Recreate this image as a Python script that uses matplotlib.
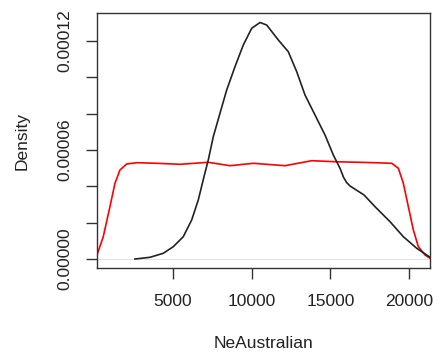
import matplotlib
matplotlib.use("Agg")
import matplotlib.pyplot as plt

# Density estimate of NeAustralian (posterior) and its prior
post_x = [2609, 3561, 4404, 5038, 5672, 6205, 6623, 6985, 7257, 7574, 7999,
          8424, 8950, 9477, 10009, 10536, 10961, 11696, 12330, 12863, 13389,
          14023, 14657, 15184, 15608, 15830, 16033, 16243, 16687, 17131,
          17828, 18779, 19622, 20472, 21316]
post_y = [0.0, 9.4e-7, 3.14e-6, 6.77e-6, 1.228e-5, 2.147e-5, 3.248e-5,
          4.531e-5, 5.450e-5, 6.733e-5, 8.021e-5, 9.303e-5, 1.0586e-4,
          1.1781e-4, 1.270e-4, 1.302e-4, 1.288e-4, 1.2056e-4, 1.1412e-4,
          1.0311e-4, 9.028e-5, 7.927e-5, 6.826e-5, 5.725e-5, 4.993e-5,
          4.50e-5, 4.20e-5, 4.02e-5, 3.771e-5, 3.523e-5, 2.879e-5, 2.053e-5,
          1.228e-5, 5.89e-6, 9.4e-7]

prior_x = [203, 599, 1024, 1341, 1658, 2083, 2717, 4000, 5463, 7257, 8633,
           10111, 12121, 13814, 15291, 17828, 18887, 19306, 19622, 19939,
           20256, 20574, 20998, 21316]
prior_y = [2.2e-6, 1.228e-5, 2.879e-5, 4.167e-5, 4.899e-5, 5.230e-5,
           5.301e-5, 5.268e-5, 5.213e-5, 5.323e-5, 5.136e-5, 5.268e-5,
           5.136e-5, 5.411e-5, 5.356e-5, 5.301e-5, 5.268e-5, 4.993e-5,
           4.167e-5, 2.879e-5, 1.596e-5, 6.77e-6, 2.2e-6, 3.9e-7]

x_ticks = [5000, 10000, 15000, 20000]
x_tick_labels = ["5000", "10000", "15000", "20000"]
y_ticks = [0, 0.00002, 0.00004, 0.00006, 0.00008, 0.00010, 0.00012]
y_tick_labels = ["0.00000", "", "", "0.00006", "", "", "0.00012"]

plt.rcParams["font.family"] = ["Liberation Sans", "DejaVu Sans"]

fig = plt.figure(figsize=(4.41, 3.58), dpi=100)
ax = fig.add_axes([97 / 441, 1 - 268 / 358, (430 - 97) / 441, (268 - 13) / 358])

ax.axhline(0, color="#d8d8d8", lw=0.5, zorder=1)
ax.plot(post_x, post_y, color="#222222", lw=1.2, zorder=3,
        solid_joinstyle="round")
ax.plot(prior_x, prior_y, color="#ff0000", lw=1.2, zorder=2,
        solid_joinstyle="round")

ax.set_xlim(203, 21312)
ax.set_ylim(-4.95e-6, 1.3542e-4)

ax.set_xticks(x_ticks)
ax.set_xticklabels(x_tick_labels)
ax.set_yticks(y_ticks)
ax.set_yticklabels(y_tick_labels, rotation=90, va="center")

for s in ax.spines.values():
    s.set_color("#333333")
    s.set_linewidth(1.0)

ax.tick_params(axis="both", direction="out", length=8, width=1.0,
               color="#333333", labelsize=12.5, labelcolor="#222222")
ax.tick_params(axis="x", pad=11)
ax.tick_params(axis="y", pad=10)

ax.set_xlabel("NeAustralian", fontsize=12.5, color="#222222", labelpad=19)
ax.set_ylabel("Density", fontsize=12.5, color="#222222", labelpad=20)

fig.savefig("out.png", dpi=100)
